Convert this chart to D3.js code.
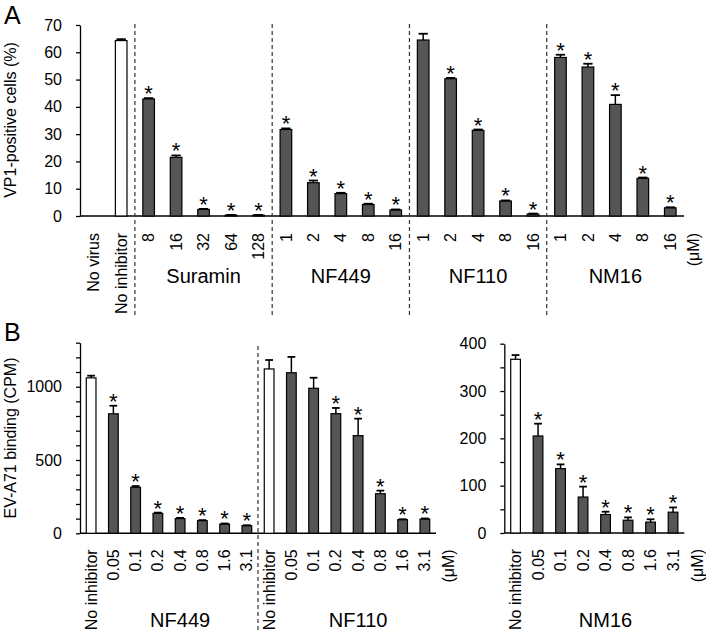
<!DOCTYPE html>
<html><head><meta charset="utf-8">
<script src="https://cdn.jsdelivr.net/npm/d3@7"></script>
<style>
body{margin:0;background:#fff;}
text{font-family:"Liberation Sans",Arial,sans-serif;fill:#000;}
</style></head>
<body><svg id="c" width="706" height="640"></svg>
<script>
// ---------- Panel A data ----------
const labelsA = ["No virus","No inhibitor","8","16","32","64","128","1","2","4","8","16","1","2","4","8","16","1","2","4","8","16"];
const valuesA = [0,64.3,42.9,21.5,2.4,0.3,0.3,31.7,12.2,8.2,4.2,2.2,64.5,50.3,31.4,5.5,0.7,58.1,54.6,40.9,13.8,3.0];
const errorsA = [0,0.5,0.3,0.7,0.2,0.1,0.1,0.4,0.8,0.3,0.3,0.2,2.3,0.3,0.3,0.2,0.2,1.0,1.2,3.4,0.3,0.2];
const starsA  = [0,0,1,1,1,1,1,1,1,1,1,1,0,1,1,1,1,1,1,1,1,1];
const whiteA  = [1,1,0,0,0,0,0,0,0,0,0,0,0,0,0,0,0,0,0,0,0,0];
const groupsA = ["Suramin","NF449","NF110","NM16"];
const groupStartA = [2,7,12,17];
const groupEndA = [6,11,16,21];
const ticksA = [0,10,20,30,40,50,60,70];

// ---------- Panel B (left) data ----------
const labelsB1 = ["No inhibitor","0.05","0.1","0.2","0.4","0.8","1.6","3.1","No inhibitor","0.05","0.1","0.2","0.4","0.8","1.6","3.1"];
const valuesB1 = [1060,815,314,136,100,86,63,52,1121,1095,989,816,666,270,93,97];
const errorsB1 = [15,55,8,5,5,4,4,3,61,108,72,39,116,21,3,4];
const starsB1  = [0,1,1,1,1,1,1,1,0,0,0,1,1,1,1,1];
const whiteB1  = [1,0,0,0,0,0,0,0,1,0,0,0,0,0,0,0];
const groupsB1 = ["NF449","NF110"];
const groupStartB1 = [1,9];
const groupEndB1 = [7,15];
const ticksB1 = d3.range(0,1301,100);

// ---------- Panel B (right) data ----------
const labelsB2 = ["No inhibitor","0.05","0.1","0.2","0.4","0.8","1.6","3.1"];
const valuesB2 = [367,205,136,76,39,27,23,44];
const errorsB2 = [9,26,9,22,6,6,6,10];
const starsB2  = [0,1,1,1,1,1,1,1];
const whiteB2  = [1,0,0,0,0,0,0,0];
const groupsB2 = ["NM16"];
const groupStartB2 = [1];
const groupEndB2 = [7];
const ticksB2 = d3.range(0,401,50);

const svg = d3.select("#c");
const DARK = "#555555";

function panel(o){
  const n = o.labels.length;
  const x = d3.scaleBand().domain(d3.range(n)).range(o.xr).paddingInner(o.pad).paddingOuter(o.pad/2);
  const y = d3.scaleLinear().domain(o.yd).range(o.yr);
  const g = svg.append("g");
  // y axis
  const ax = d3.axisLeft(y).tickValues(o.ticks).tickSize(4).tickSizeOuter(0).tickPadding(14)
    .tickFormat(o.fmt);
  const ga = g.append("g").attr("transform",`translate(${o.xr[0]},0)`).call(ax);
  ga.selectAll("text").style("font-size","16px").style("font-family","'Liberation Sans',Arial,sans-serif");
  ga.selectAll("line,path").attr("stroke","#000").attr("stroke-width",1.3);
  // x axis line
  g.append("line").attr("x1",o.xr[0]).attr("x2",o.xr[1]).attr("y1",y(0)).attr("y2",y(0))
    .attr("stroke","#000").attr("stroke-width",1.6);
  // bars
  const idx = d3.range(n);
  g.selectAll("rect.bar").data(idx).join("rect")
    .attr("x",i=>x(i)).attr("width",x.bandwidth())
    .attr("y",i=>y(o.values[i])).attr("height",i=>y(0)-y(o.values[i]))
    .attr("fill",i=>o.white[i]?"#fff":DARK).attr("stroke","#000").attr("stroke-width",1.2)
    .style("display",i=>o.values[i]>0?null:"none");
  // error bars
  const eb = idx.filter(i=>o.values[i]>0);
  g.selectAll("line.ev").data(eb).join("line")
    .attr("x1",i=>x(i)+x.bandwidth()/2).attr("x2",i=>x(i)+x.bandwidth()/2)
    .attr("y1",i=>y(o.values[i])).attr("y2",i=>y(o.values[i]+o.errors[i]))
    .attr("stroke","#000").attr("stroke-width",1.5);
  g.selectAll("line.ec").data(eb).join("line")
    .attr("x1",i=>x(i)+x.bandwidth()*0.1).attr("x2",i=>x(i)+x.bandwidth()*0.9)
    .attr("y1",i=>y(o.values[i]+o.errors[i])).attr("y2",i=>y(o.values[i]+o.errors[i]))
    .attr("stroke","#000").attr("stroke-width",1.8);
  // stars
  g.selectAll("text.star").data(idx.filter(i=>o.stars[i])).join("text")
    .attr("x",i=>x(i)+x.bandwidth()/2).attr("y",i=>y(o.values[i]+o.errors[i])+3)
    .attr("text-anchor","middle").style("font-size","22px").text("*");
  // tick labels
  g.selectAll("text.tl").data(idx).join("text")
    .attr("transform",i=>`translate(${x(i)+x.bandwidth()/2},${y(0)+o.lab})rotate(-90)`)
    .attr("text-anchor","end").attr("dy","0.35em").style("font-size","16px")
    .text(i=>o.labels[i]);
  // unit
  g.append("text").attr("transform",`translate(${o.unitX},${y(0)+o.lab})rotate(-90)`)
    .attr("text-anchor","end").attr("dy","0.35em").style("font-size","16px").text("(μM)");
  // group labels
  o.groups.forEach((name,k)=>{
    const cx = (x(o.gs[k])+x(o.ge[k])+x.bandwidth())/2;
    g.append("text").attr("x",cx).attr("y",o.groupY).attr("text-anchor","middle")
      .style("font-size","20px").text(name);
  });
  return {x,y};
}

const A = panel({labels:labelsA,values:valuesA,errors:errorsA,stars:starsA,white:whiteA,
  groups:groupsA,gs:groupStartA,ge:groupEndA,ticks:ticksA,fmt:d=>d,
  xr:[80,684],pad:0.577,yd:[0,70],yr:[216,25],lab:17,unitX:693,groupY:283});
// separators panel A
groupStartA.forEach(s=>{
  const xx = A.x(s) - A.x.step()*A.x.paddingInner()/2;
  svg.append("line").attr("x1",xx).attr("x2",xx).attr("y1",24).attr("y2",315)
    .attr("stroke","#333").attr("stroke-width",1.2).attr("stroke-dasharray","4,3");
});

const B1 = panel({labels:labelsB1,values:valuesB1,errors:errorsB1,stars:starsB1,white:whiteB1,
  groups:groupsB1,gs:groupStartB1,ge:groupEndB1,ticks:ticksB1,fmt:d=>(d%500===0?String(d):""),
  xr:[80,436],pad:0.564,yd:[0,1300],yr:[533.3,342.7],lab:16,unitX:448,groupY:627});
{
  const xx = B1.x(8) - B1.x.step()*B1.x.paddingInner()/2;
  svg.append("line").attr("x1",xx).attr("x2",xx).attr("y1",346).attr("y2",632)
    .attr("stroke","#333").attr("stroke-width",1.2).attr("stroke-dasharray","4,3");
}

panel({labels:labelsB2,values:valuesB2,errors:errorsB2,stars:starsB2,white:whiteB2,
  groups:groupsB2,gs:groupStartB2,ge:groupEndB2,ticks:ticksB2,fmt:d=>(d%100===0?String(d):""),
  xr:[504.3,684.3],pad:0.57,yd:[0,400],yr:[533,343.7],lab:16,unitX:697,groupY:627});

// axis titles & panel letters
svg.append("text").attr("transform","translate(16,120)rotate(-90)").attr("text-anchor","middle")
  .style("font-size","16px").text("VP1-positive cells (%)");
svg.append("text").attr("transform","translate(16,438)rotate(-90)").attr("text-anchor","middle")
  .style("font-size","16px").text("EV-A71 binding (CPM)");
svg.append("text").attr("x",4).attr("y",24).style("font-size","25px").text("A");
svg.append("text").attr("x",4).attr("y",341).style("font-size","25px").text("B");
</script></body></html>
